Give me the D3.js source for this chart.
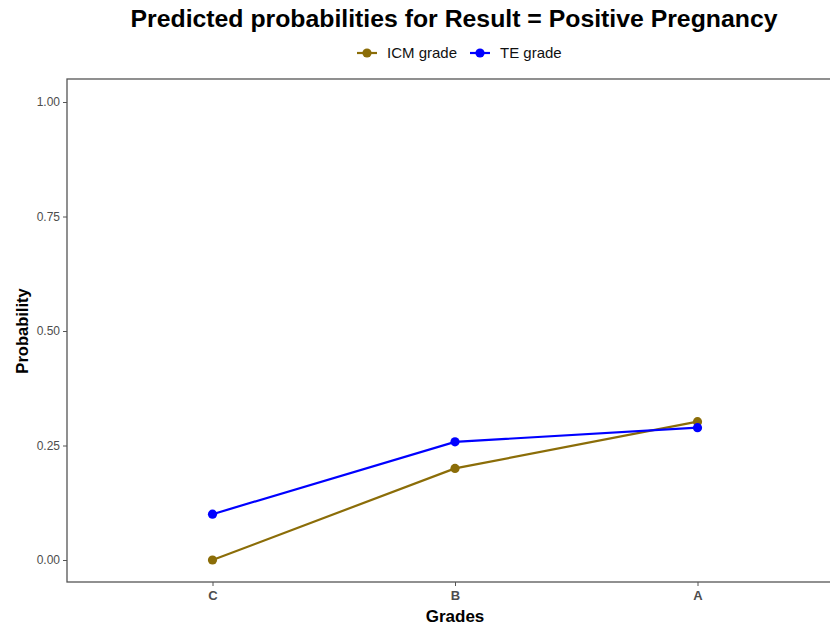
<!DOCTYPE html>
<html>
<head>
<meta charset="utf-8">
<script src="https://cdn.jsdelivr.net/npm/d3@7"></script>
<style>
  body { margin: 0; background: #fff; }
  text { font-family: "Liberation Sans", Arial, sans-serif; }
</style>
</head>
<body>
<svg id="chart" width="830" height="627"></svg>
<script>
  var grades = ["C", "B", "A"];
  var icmValues = [0.00, 0.20, 0.302];
  var teValues = [0.10, 0.258, 0.289];
  var yTicks = [0, 0.25, 0.5, 0.75, 1];
  var seriesNames = ["ICM grade", "TE grade"];
  var seriesColors = ["#8B6D08", "#0000FF"];

  var svg = d3.select("#chart");

  var panelLeft = 67, panelTop = 79, panelBottom = 582;
  var step = 242.5;

  // discrete x axis with 0.6 expansion on each side (panel runs past the right edge)
  var x = d3.scalePoint().domain(grades)
    .range([panelLeft + 0.6 * step, panelLeft + 2.6 * step]);
  var y = d3.scaleLinear().domain([0, 1]).range([560, 102]);

  // panel border
  svg.append("rect")
    .attr("x", panelLeft).attr("y", panelTop)
    .attr("width", 5 * step).attr("height", panelBottom - panelTop)
    .attr("fill", "none").attr("stroke", "#555").attr("stroke-width", 1.3);

  // y axis
  var yAxis = svg.append("g").attr("transform", "translate(" + panelLeft + ",0)")
    .call(d3.axisLeft(y).tickValues(yTicks).tickFormat(d3.format(".2f")).tickSize(4).tickPadding(3));
  yAxis.select(".domain").remove();
  yAxis.selectAll("line").attr("stroke", "#555");
  yAxis.selectAll("text").attr("fill", "#4D4D4D").attr("font-size", 12)
    .style("font-family", "Liberation Sans, Arial, sans-serif");

  // x axis
  var xAxis = svg.append("g").attr("transform", "translate(0," + panelBottom + ")")
    .call(d3.axisBottom(x).tickSize(4).tickPadding(5));
  xAxis.select(".domain").remove();
  xAxis.selectAll("line").attr("stroke", "#555");
  xAxis.selectAll("text").attr("fill", "#4D4D4D").attr("font-size", 13)
    .attr("font-weight", "bold")
    .style("font-family", "Liberation Sans, Arial, sans-serif");

  // series
  var series = [icmValues, teValues];
  var line = d3.line()
    .x(function(d, i) { return x(grades[i]); })
    .y(function(d) { return y(d); });

  series.forEach(function(vals, k) {
    svg.append("path")
      .datum(vals)
      .attr("d", line)
      .attr("fill", "none")
      .attr("stroke", seriesColors[k])
      .attr("stroke-width", 2.2);
    svg.selectAll(".pt" + k)
      .data(vals)
      .enter()
      .append("circle")
      .attr("cx", function(d, i) { return x(grades[i]); })
      .attr("cy", function(d) { return y(d); })
      .attr("r", 4.6)
      .attr("fill", seriesColors[k]);
  });

  // title
  svg.append("text")
    .attr("x", 454).attr("y", 27)
    .attr("text-anchor", "middle")
    .attr("font-size", 24.8).attr("font-weight", "bold")
    .text("Predicted probabilities for Result = Positive Pregnancy");

  // legend
  var legendX = [357, 470];
  seriesNames.forEach(function(name, k) {
    var g = svg.append("g").attr("transform", "translate(" + legendX[k] + ",53)");
    g.append("line").attr("x1", 0).attr("x2", 20).attr("y1", 0).attr("y2", 0)
      .attr("stroke", seriesColors[k]).attr("stroke-width", 2.2);
    g.append("circle").attr("cx", 10).attr("cy", 0).attr("r", 4.6).attr("fill", seriesColors[k]);
    g.append("text").attr("x", 30).attr("y", 5)
      .attr("font-size", 15).attr("fill", "#111").text(name);
  });

  // axis titles
  svg.append("text")
    .attr("x", x("B")).attr("y", 622)
    .attr("text-anchor", "middle")
    .attr("font-size", 17).attr("font-weight", "bold")
    .text("Grades");

  svg.append("text")
    .attr("transform", "translate(28,331) rotate(-90)")
    .attr("text-anchor", "middle")
    .attr("font-size", 16.5).attr("font-weight", "bold")
    .text("Probability");
</script>
</body>
</html>
